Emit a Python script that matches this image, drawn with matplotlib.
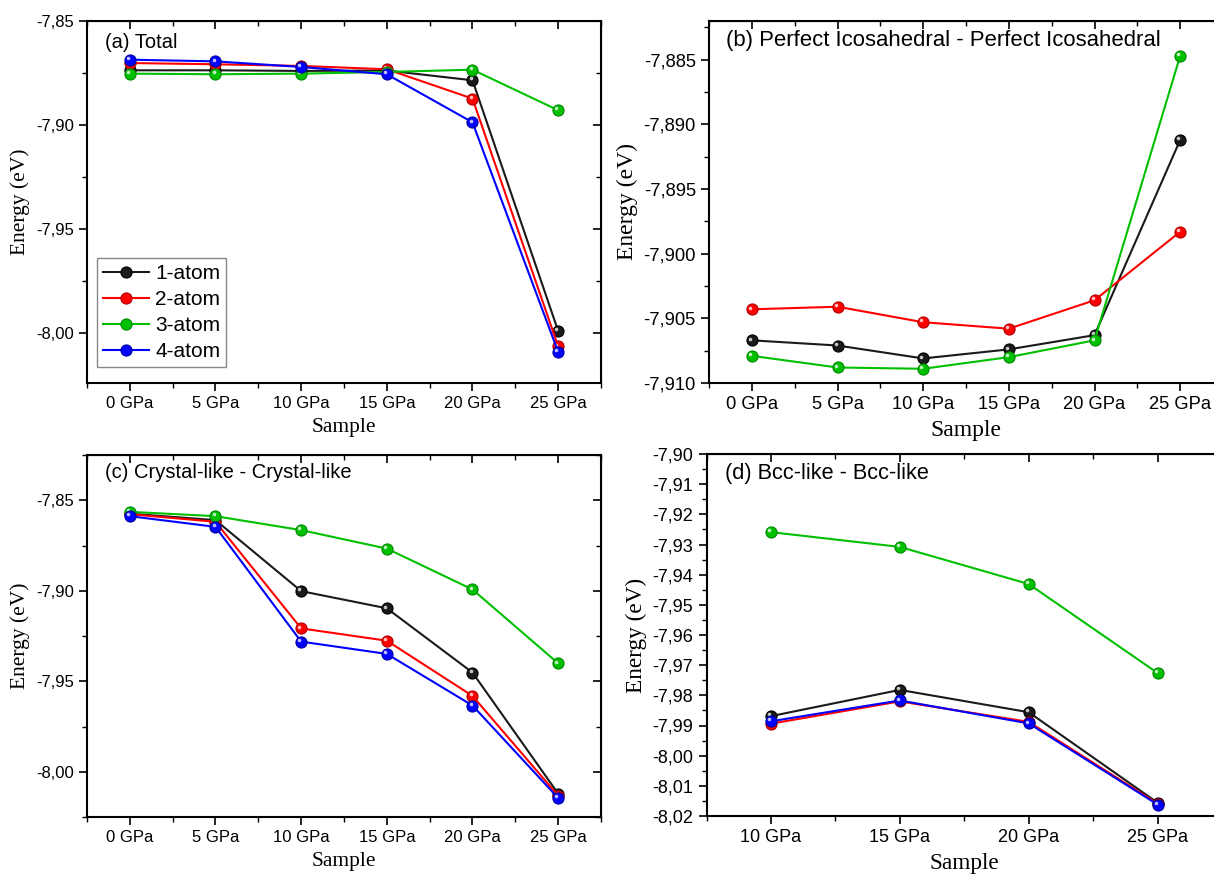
import matplotlib
matplotlib.use('Agg')
from matplotlib import pyplot as plt
from matplotlib import transforms
from matplotlib.ticker import FuncFormatter, MultipleLocator

pressures = ['0 GPa', '5 GPa', '10 GPa', '15 GPa', '20 GPa', '25 GPa']
pressures_d = ['10 GPa', '15 GPa', '20 GPa', '25 GPa']
series_names = ['1-atom', '2-atom', '3-atom', '4-atom']

# (a) Total
total_1 = [-7.8737, -7.8737, -7.8740, -7.8738, -7.8785, -7.9990]
total_2 = [-7.8702, -7.8708, -7.8716, -7.8732, -7.8873, -8.0064]
total_3 = [-7.8753, -7.8756, -7.8753, -7.8745, -7.8734, -7.8929]
total_4 = [-7.8686, -7.8694, -7.8721, -7.8756, -7.8987, -8.0091]

# (b) Perfect Icosahedral (no 4-atom series)
ico_1 = [-7.9067, -7.9071, -7.9081, -7.9074, -7.9063, -7.8912]
ico_2 = [-7.9043, -7.9041, -7.9053, -7.9058, -7.9036, -7.8983]
ico_3 = [-7.9079, -7.9088, -7.9089, -7.9080, -7.9067, -7.8847]

# (c) Crystal-like
cry_1 = [-7.8574, -7.8610, -7.9002, -7.9097, -7.9452, -8.0121]
cry_2 = [-7.8577, -7.8619, -7.9208, -7.9276, -7.9581, -8.0132]
cry_3 = [-7.8564, -7.8588, -7.8665, -7.8767, -7.8993, -7.9401]
cry_4 = [-7.8588, -7.8647, -7.9281, -7.9349, -7.9634, -8.0145]

# (d) Bcc-like
bcc_1 = [-7.9869, -7.9782, -7.9856, -8.0156]
bcc_2 = [-7.9894, -7.9820, -7.9888, -8.0159]
bcc_3 = [-7.9259, -7.9308, -7.9431, -7.9726]
bcc_4 = [-7.9886, -7.9817, -7.9893, -8.0162]

colors = ['#1a1a1a', '#ff0000', '#00c000', '#0000ff']
edges = ['#000000', '#b00000', '#008800', '#0000a0']

W, H = 1214, 876
fig = plt.figure(figsize=(W / 100, H / 100), dpi=100)
plt.rcParams['font.family'] = ['Liberation Sans', 'DejaVu Sans']


def box(l, t, r, b):
    return [l / W, 1 - b / H, (r - l) / W, (b - t) / H]


def fmt(decimals):
    return FuncFormatter(lambda v, p: f"{v:.{decimals}f}".replace('.', ','))


def setup(ax, cats, ylim, major, minor, decimals, title, tx, ty, k=1.0):
    n = len(cats)
    ax.set_xlim(-0.5, n - 0.5)
    ax.set_ylim(*ylim)
    ax.set_xticks(range(n))
    ax.set_xticklabels(cats)
    ax.xaxis.set_minor_locator(MultipleLocator(0.5))
    ax.yaxis.set_major_locator(MultipleLocator(major))
    ax.yaxis.set_minor_locator(MultipleLocator(minor))
    ax.yaxis.set_major_formatter(fmt(decimals))
    ax.tick_params(which='major', direction='out', length=6, width=1.2, labelsize=12 * k)
    ax.tick_params(which='minor', direction='out', length=3.5, width=1.0)
    for s in ax.spines.values():
        s.set_linewidth(1.5)
    top = ax.secondary_xaxis('top')
    top.set_xticks(range(n))
    top.xaxis.set_minor_locator(MultipleLocator(0.5))
    top.tick_params(which='major', direction='in', length=6, width=1.2, labeltop=False)
    top.tick_params(which='minor', direction='in', length=3.5, width=1.0)
    right = ax.secondary_yaxis('right')
    right.yaxis.set_major_locator(MultipleLocator(major))
    right.yaxis.set_minor_locator(MultipleLocator(minor))
    right.tick_params(which='major', direction='in', length=6, width=1.2, labelright=False)
    right.tick_params(which='minor', direction='in', length=3.5, width=1.0)
    ax.set_xlabel('Sample', family='Liberation Serif', fontsize=15.5 * k, labelpad=5)
    ax.set_ylabel('Energy (eV)', family='Liberation Serif', fontsize=15.5 * k, labelpad=4)
    ax.text(tx, ty, title, transform=ax.transAxes, fontsize=14.5 * k, va='center', ha='left')


def draw(ax, ys, names, idx):
    for y, name, i in zip(ys, names, idx):
        x = list(range(len(y)))
        ax.plot(x, y, color=colors[i], lw=1.5, marker='o', ms=8,
                mfc=colors[i], mec=edges[i], mew=0.8, label=name)
        tr = transforms.offset_copy(ax.transData, fig=fig, x=-1.3, y=1.3, units='points')
        ax.plot(x, y, ls='none', marker='o', ms=2.6, mfc='white', mec='none',
                alpha=0.75, transform=tr)


ax_a = fig.add_axes(box(87, 21, 601, 383))
draw(ax_a, [total_1, total_2, total_3, total_4], series_names, [0, 1, 2, 3])
setup(ax_a, pressures, (-8.024, -7.85), 0.05, 0.025, 2, '(a) Total', 0.035, 0.94)
ax_a.legend(loc='lower left', bbox_to_anchor=(0.019, 0.044), borderaxespad=0,
            fontsize=15, handlelength=2.2, labelspacing=0.33, handletextpad=0.3,
            borderpad=0.3, fancybox=False, edgecolor='#888888', framealpha=1)

ax_b = fig.add_axes(box(709, 21, 1223, 383))
draw(ax_b, [ico_1, ico_2, ico_3], series_names[:3], [0, 1, 2])
setup(ax_b, pressures, (-7.910, -7.882), 0.005, 0.0025, 3,
      '(b) Perfect Icosahedral - Perfect Icosahedral', 0.033, 0.945, k=1.1)

ax_c = fig.add_axes(box(87, 455, 601, 817))
draw(ax_c, [cry_1, cry_2, cry_3, cry_4], series_names, [0, 1, 2, 3])
setup(ax_c, pressures, (-8.025, -7.825), 0.05, 0.025, 2,
      '(c) Crystal-like - Crystal-like', 0.035, 0.953)

ax_d = fig.add_axes(box(706.5, 454, 1222, 816))
draw(ax_d, [bcc_1, bcc_2, bcc_3, bcc_4], series_names, [0, 1, 2, 3])
setup(ax_d, pressures_d, (-8.02, -7.90), 0.01, 0.005, 2,
      '(d) Bcc-like - Bcc-like', 0.036, 0.945, k=1.08)

plt.savefig('out.png', dpi=100)
